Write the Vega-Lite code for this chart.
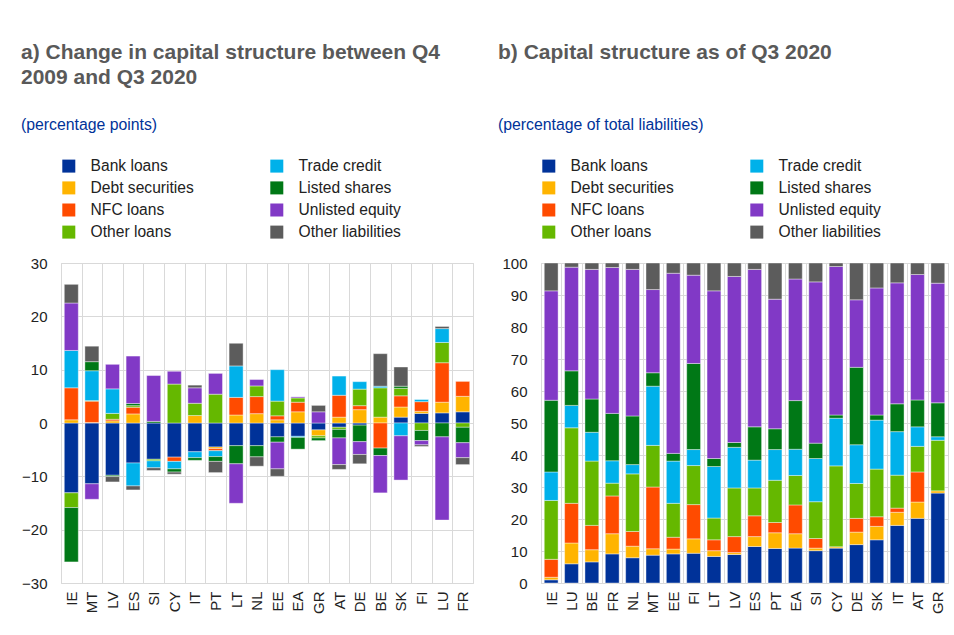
{
  "$schema": "https://vega.github.io/schema/vega-lite/v6.json",
  "padding": {"left": 20, "top": 41, "right": 5, "bottom": 5},
  "background": "white",
  "bounds": "flush",
  "spacing": 68,
  "datasets": {
    "series": [
      {"s": "Bank loans", "k": 1}, {"s": "Debt securities", "k": 2}, {"s": "NFC loans", "k": 3}, {"s": "Other loans", "k": 4},
      {"s": "Trade credit", "k": 5}, {"s": "Listed shares", "k": 6}, {"s": "Unlisted equity", "k": 7}, {"s": "Other liabilities", "k": 8}
    ],
    "a": [
      {"c": "IE", "s": "Bank loans", "v": -13.1}, {"c": "IE", "s": "Debt securities", "v": 0.6}, {"c": "IE", "s": "NFC loans", "v": 6.0}, {"c": "IE", "s": "Other loans", "v": -2.75}, {"c": "IE", "s": "Trade credit", "v": 7.0}, {"c": "IE", "s": "Listed shares", "v": -10.2}, {"c": "IE", "s": "Unlisted equity", "v": 8.9}, {"c": "IE", "s": "Other liabilities", "v": 3.5},
      {"c": "MT", "s": "Bank loans", "v": -11.4}, {"c": "MT", "s": "Debt securities", "v": 0.1}, {"c": "MT", "s": "NFC loans", "v": 4.0}, {"c": "MT", "s": "Other loans", "v": 0.1}, {"c": "MT", "s": "Trade credit", "v": 5.6}, {"c": "MT", "s": "Listed shares", "v": 1.7}, {"c": "MT", "s": "Unlisted equity", "v": -2.9}, {"c": "MT", "s": "Other liabilities", "v": 2.9},
      {"c": "LV", "s": "Bank loans", "v": -9.8}, {"c": "LV", "s": "Debt securities", "v": 0.4}, {"c": "LV", "s": "NFC loans", "v": 0.3}, {"c": "LV", "s": "Other loans", "v": 1.1}, {"c": "LV", "s": "Trade credit", "v": 4.6}, {"c": "LV", "s": "Listed shares", "v": -0.25}, {"c": "LV", "s": "Unlisted equity", "v": 4.6}, {"c": "LV", "s": "Other liabilities", "v": -1.0},
      {"c": "ES", "s": "Bank loans", "v": -7.5}, {"c": "ES", "s": "Debt securities", "v": 1.7}, {"c": "ES", "s": "NFC loans", "v": 1.25}, {"c": "ES", "s": "Other loans", "v": 0.3}, {"c": "ES", "s": "Trade credit", "v": -4.3}, {"c": "ES", "s": "Listed shares", "v": 0.4}, {"c": "ES", "s": "Unlisted equity", "v": 8.9}, {"c": "ES", "s": "Other liabilities", "v": -0.75},
      {"c": "SI", "s": "Bank loans", "v": -6.8}, {"c": "SI", "s": "Other loans", "v": -0.3}, {"c": "SI", "s": "Trade credit", "v": -1.3}, {"c": "SI", "s": "Listed shares", "v": 0.3}, {"c": "SI", "s": "Unlisted equity", "v": 8.6}, {"c": "SI", "s": "Other liabilities", "v": -0.5},
      {"c": "CY", "s": "Bank loans", "v": -6.4}, {"c": "CY", "s": "NFC loans", "v": -0.8}, {"c": "CY", "s": "Other loans", "v": 7.3}, {"c": "CY", "s": "Trade credit", "v": -1.4}, {"c": "CY", "s": "Listed shares", "v": -0.6}, {"c": "CY", "s": "Unlisted equity", "v": 2.4}, {"c": "CY", "s": "Other liabilities", "v": -0.4},
      {"c": "IT", "s": "Bank loans", "v": -5.4}, {"c": "IT", "s": "Debt securities", "v": 1.4}, {"c": "IT", "s": "Other loans", "v": 2.3}, {"c": "IT", "s": "Trade credit", "v": -1.1}, {"c": "IT", "s": "Listed shares", "v": -0.5}, {"c": "IT", "s": "Unlisted equity", "v": 2.9}, {"c": "IT", "s": "Other liabilities", "v": 0.5},
      {"c": "PT", "s": "Bank loans", "v": -4.5}, {"c": "PT", "s": "Debt securities", "v": -0.3}, {"c": "PT", "s": "NFC loans", "v": -0.4}, {"c": "PT", "s": "Other loans", "v": 5.4}, {"c": "PT", "s": "Trade credit", "v": -1.1}, {"c": "PT", "s": "Listed shares", "v": -0.9}, {"c": "PT", "s": "Unlisted equity", "v": 3.9}, {"c": "PT", "s": "Other liabilities", "v": -2.1},
      {"c": "LT", "s": "Bank loans", "v": -4.25}, {"c": "LT", "s": "Debt securities", "v": 1.5}, {"c": "LT", "s": "NFC loans", "v": 3.3}, {"c": "LT", "s": "Trade credit", "v": 5.9}, {"c": "LT", "s": "Listed shares", "v": -3.4}, {"c": "LT", "s": "Unlisted equity", "v": -7.4}, {"c": "LT", "s": "Other liabilities", "v": 4.25},
      {"c": "NL", "s": "Bank loans", "v": -4.25}, {"c": "NL", "s": "Debt securities", "v": 1.75}, {"c": "NL", "s": "NFC loans", "v": 3.2}, {"c": "NL", "s": "Other loans", "v": 2.0}, {"c": "NL", "s": "Listed shares", "v": -2.1}, {"c": "NL", "s": "Unlisted equity", "v": 1.2}, {"c": "NL", "s": "Other liabilities", "v": -1.75},
      {"c": "EE", "s": "Bank loans", "v": -2.6}, {"c": "EE", "s": "Debt securities", "v": 0.6}, {"c": "EE", "s": "NFC loans", "v": 0.75}, {"c": "EE", "s": "Other loans", "v": 2.75}, {"c": "EE", "s": "Trade credit", "v": 5.9}, {"c": "EE", "s": "Listed shares", "v": -1.0}, {"c": "EE", "s": "Unlisted equity", "v": -5.0}, {"c": "EE", "s": "Other liabilities", "v": -1.4},
      {"c": "EA", "s": "Bank loans", "v": -2.5}, {"c": "EA", "s": "Debt securities", "v": 2.1}, {"c": "EA", "s": "NFC loans", "v": 1.8}, {"c": "EA", "s": "Other loans", "v": 0.8}, {"c": "EA", "s": "Trade credit", "v": -0.2}, {"c": "EA", "s": "Listed shares", "v": -2.2}, {"c": "EA", "s": "Unlisted equity", "v": 0.2},
      {"c": "GR", "s": "Bank loans", "v": -1.3}, {"c": "GR", "s": "Debt securities", "v": -1.1}, {"c": "GR", "s": "Other loans", "v": -0.4}, {"c": "GR", "s": "Listed shares", "v": -0.5}, {"c": "GR", "s": "Unlisted equity", "v": 2.1}, {"c": "GR", "s": "Other liabilities", "v": 1.2},
      {"c": "AT", "s": "Bank loans", "v": -0.8}, {"c": "AT", "s": "Debt securities", "v": 1.1}, {"c": "AT", "s": "NFC loans", "v": 4.1}, {"c": "AT", "s": "Other loans", "v": -0.4}, {"c": "AT", "s": "Trade credit", "v": 3.6}, {"c": "AT", "s": "Listed shares", "v": -1.6}, {"c": "AT", "s": "Unlisted equity", "v": -5.0}, {"c": "AT", "s": "Other liabilities", "v": -0.9},
      {"c": "DE", "s": "Bank loans", "v": -0.4}, {"c": "DE", "s": "Debt securities", "v": 2.5}, {"c": "DE", "s": "NFC loans", "v": 0.75}, {"c": "DE", "s": "Other loans", "v": 3.1}, {"c": "DE", "s": "Trade credit", "v": 1.4}, {"c": "DE", "s": "Listed shares", "v": -3.1}, {"c": "DE", "s": "Unlisted equity", "v": -2.4}, {"c": "DE", "s": "Other liabilities", "v": -1.75},
      {"c": "BE", "s": "Debt securities", "v": 1.1}, {"c": "BE", "s": "NFC loans", "v": -4.7}, {"c": "BE", "s": "Other loans", "v": 5.5}, {"c": "BE", "s": "Trade credit", "v": 0.3}, {"c": "BE", "s": "Listed shares", "v": -1.4}, {"c": "BE", "s": "Unlisted equity", "v": -7.0}, {"c": "BE", "s": "Other liabilities", "v": 6.1},
      {"c": "SK", "s": "Bank loans", "v": 1.1}, {"c": "SK", "s": "Debt securities", "v": 1.9}, {"c": "SK", "s": "NFC loans", "v": 2.1}, {"c": "SK", "s": "Other loans", "v": 1.4}, {"c": "SK", "s": "Trade credit", "v": -2.4}, {"c": "SK", "s": "Listed shares", "v": 0.4}, {"c": "SK", "s": "Unlisted equity", "v": -8.3}, {"c": "SK", "s": "Other liabilities", "v": 3.6},
      {"c": "FI", "s": "Bank loans", "v": 1.8}, {"c": "FI", "s": "Debt securities", "v": 0.4}, {"c": "FI", "s": "NFC loans", "v": 1.8}, {"c": "FI", "s": "Other loans", "v": -1.4}, {"c": "FI", "s": "Trade credit", "v": 0.4}, {"c": "FI", "s": "Listed shares", "v": -1.9}, {"c": "FI", "s": "Unlisted equity", "v": -0.8}, {"c": "FI", "s": "Other liabilities", "v": -0.3},
      {"c": "LU", "s": "Bank loans", "v": 1.9}, {"c": "LU", "s": "Debt securities", "v": 2.0}, {"c": "LU", "s": "NFC loans", "v": 7.4}, {"c": "LU", "s": "Other loans", "v": 3.8}, {"c": "LU", "s": "Trade credit", "v": 2.6}, {"c": "LU", "s": "Listed shares", "v": -2.6}, {"c": "LU", "s": "Unlisted equity", "v": -15.6}, {"c": "LU", "s": "Other liabilities", "v": 0.4},
      {"c": "FR", "s": "Bank loans", "v": 2.1}, {"c": "FR", "s": "Debt securities", "v": 2.9}, {"c": "FR", "s": "NFC loans", "v": 2.8}, {"c": "FR", "s": "Other loans", "v": -0.8}, {"c": "FR", "s": "Listed shares", "v": -2.9}, {"c": "FR", "s": "Unlisted equity", "v": -2.8}, {"c": "FR", "s": "Other liabilities", "v": -1.3}
    ],
    "b": [
      {"c": "IE", "s": "Bank loans", "v": 1.0}, {"c": "IE", "s": "Debt securities", "v": 0.8}, {"c": "IE", "s": "NFC loans", "v": 5.6}, {"c": "IE", "s": "Other loans", "v": 18.4}, {"c": "IE", "s": "Trade credit", "v": 8.9}, {"c": "IE", "s": "Listed shares", "v": 22.4}, {"c": "IE", "s": "Unlisted equity", "v": 34.2}, {"c": "IE", "s": "Other liabilities", "v": 8.7},
      {"c": "LU", "s": "Bank loans", "v": 6.0}, {"c": "LU", "s": "Debt securities", "v": 6.5}, {"c": "LU", "s": "NFC loans", "v": 12.4}, {"c": "LU", "s": "Other loans", "v": 23.6}, {"c": "LU", "s": "Trade credit", "v": 7.0}, {"c": "LU", "s": "Listed shares", "v": 10.8}, {"c": "LU", "s": "Unlisted equity", "v": 32.4}, {"c": "LU", "s": "Other liabilities", "v": 1.3},
      {"c": "BE", "s": "Bank loans", "v": 6.6}, {"c": "BE", "s": "Debt securities", "v": 3.8}, {"c": "BE", "s": "NFC loans", "v": 7.6}, {"c": "BE", "s": "Other loans", "v": 20.1}, {"c": "BE", "s": "Trade credit", "v": 9.0}, {"c": "BE", "s": "Listed shares", "v": 10.4}, {"c": "BE", "s": "Unlisted equity", "v": 40.5}, {"c": "BE", "s": "Other liabilities", "v": 2.0},
      {"c": "FR", "s": "Bank loans", "v": 9.1}, {"c": "FR", "s": "Debt securities", "v": 6.3}, {"c": "FR", "s": "NFC loans", "v": 11.8}, {"c": "FR", "s": "Other loans", "v": 4.0}, {"c": "FR", "s": "Trade credit", "v": 7.0}, {"c": "FR", "s": "Listed shares", "v": 14.8}, {"c": "FR", "s": "Unlisted equity", "v": 45.6}, {"c": "FR", "s": "Other liabilities", "v": 1.4},
      {"c": "NL", "s": "Bank loans", "v": 7.9}, {"c": "NL", "s": "Debt securities", "v": 3.6}, {"c": "NL", "s": "NFC loans", "v": 4.6}, {"c": "NL", "s": "Other loans", "v": 18.0}, {"c": "NL", "s": "Trade credit", "v": 2.9}, {"c": "NL", "s": "Listed shares", "v": 15.2}, {"c": "NL", "s": "Unlisted equity", "v": 45.8}, {"c": "NL", "s": "Other liabilities", "v": 2.0},
      {"c": "MT", "s": "Bank loans", "v": 8.7}, {"c": "MT", "s": "Debt securities", "v": 2.0}, {"c": "MT", "s": "NFC loans", "v": 19.3}, {"c": "MT", "s": "Other loans", "v": 13.0}, {"c": "MT", "s": "Trade credit", "v": 18.5}, {"c": "MT", "s": "Listed shares", "v": 4.2}, {"c": "MT", "s": "Unlisted equity", "v": 26.0}, {"c": "MT", "s": "Other liabilities", "v": 8.3},
      {"c": "EE", "s": "Bank loans", "v": 9.1}, {"c": "EE", "s": "Debt securities", "v": 1.5}, {"c": "EE", "s": "NFC loans", "v": 3.7}, {"c": "EE", "s": "Other loans", "v": 10.6}, {"c": "EE", "s": "Trade credit", "v": 13.2}, {"c": "EE", "s": "Listed shares", "v": 2.4}, {"c": "EE", "s": "Unlisted equity", "v": 56.3}, {"c": "EE", "s": "Other liabilities", "v": 3.2},
      {"c": "FI", "s": "Bank loans", "v": 9.3}, {"c": "FI", "s": "Debt securities", "v": 4.5}, {"c": "FI", "s": "NFC loans", "v": 10.7}, {"c": "FI", "s": "Other loans", "v": 12.2}, {"c": "FI", "s": "Trade credit", "v": 5.0}, {"c": "FI", "s": "Listed shares", "v": 26.9}, {"c": "FI", "s": "Unlisted equity", "v": 27.6}, {"c": "FI", "s": "Other liabilities", "v": 3.8},
      {"c": "LT", "s": "Bank loans", "v": 8.3}, {"c": "LT", "s": "Debt securities", "v": 1.8}, {"c": "LT", "s": "NFC loans", "v": 3.4}, {"c": "LT", "s": "Other loans", "v": 6.8}, {"c": "LT", "s": "Trade credit", "v": 16.1}, {"c": "LT", "s": "Listed shares", "v": 2.5}, {"c": "LT", "s": "Unlisted equity", "v": 52.4}, {"c": "LT", "s": "Other liabilities", "v": 8.7},
      {"c": "LV", "s": "Bank loans", "v": 8.9}, {"c": "LV", "s": "Debt securities", "v": 0.6}, {"c": "LV", "s": "NFC loans", "v": 5.0}, {"c": "LV", "s": "Other loans", "v": 15.2}, {"c": "LV", "s": "Trade credit", "v": 12.7}, {"c": "LV", "s": "Listed shares", "v": 1.5}, {"c": "LV", "s": "Unlisted equity", "v": 51.9}, {"c": "LV", "s": "Other liabilities", "v": 4.2},
      {"c": "ES", "s": "Bank loans", "v": 11.4}, {"c": "ES", "s": "Debt securities", "v": 3.1}, {"c": "ES", "s": "NFC loans", "v": 6.5}, {"c": "ES", "s": "Other loans", "v": 8.7}, {"c": "ES", "s": "Trade credit", "v": 8.7}, {"c": "ES", "s": "Listed shares", "v": 10.4}, {"c": "ES", "s": "Unlisted equity", "v": 49.2}, {"c": "ES", "s": "Other liabilities", "v": 2.0},
      {"c": "PT", "s": "Bank loans", "v": 10.8}, {"c": "PT", "s": "Debt securities", "v": 4.9}, {"c": "PT", "s": "NFC loans", "v": 3.2}, {"c": "PT", "s": "Other loans", "v": 13.2}, {"c": "PT", "s": "Trade credit", "v": 9.6}, {"c": "PT", "s": "Listed shares", "v": 6.5}, {"c": "PT", "s": "Unlisted equity", "v": 40.5}, {"c": "PT", "s": "Other liabilities", "v": 11.3},
      {"c": "EA", "s": "Bank loans", "v": 10.9}, {"c": "EA", "s": "Debt securities", "v": 4.5}, {"c": "EA", "s": "NFC loans", "v": 9.0}, {"c": "EA", "s": "Other loans", "v": 9.2}, {"c": "EA", "s": "Trade credit", "v": 8.2}, {"c": "EA", "s": "Listed shares", "v": 15.2}, {"c": "EA", "s": "Unlisted equity", "v": 38.0}, {"c": "EA", "s": "Other liabilities", "v": 5.0},
      {"c": "SI", "s": "Bank loans", "v": 10.1}, {"c": "SI", "s": "Debt securities", "v": 0.8}, {"c": "SI", "s": "NFC loans", "v": 3.0}, {"c": "SI", "s": "Other loans", "v": 11.5}, {"c": "SI", "s": "Trade credit", "v": 13.5}, {"c": "SI", "s": "Listed shares", "v": 4.8}, {"c": "SI", "s": "Unlisted equity", "v": 50.4}, {"c": "SI", "s": "Other liabilities", "v": 5.9},
      {"c": "CY", "s": "Bank loans", "v": 10.9}, {"c": "CY", "s": "Debt securities", "v": 0.4}, {"c": "CY", "s": "Other loans", "v": 25.3}, {"c": "CY", "s": "Trade credit", "v": 14.9}, {"c": "CY", "s": "Listed shares", "v": 1.0}, {"c": "CY", "s": "Unlisted equity", "v": 46.4}, {"c": "CY", "s": "Other liabilities", "v": 1.1},
      {"c": "DE", "s": "Bank loans", "v": 12.0}, {"c": "DE", "s": "Debt securities", "v": 3.9}, {"c": "DE", "s": "NFC loans", "v": 4.3}, {"c": "DE", "s": "Other loans", "v": 10.9}, {"c": "DE", "s": "Trade credit", "v": 12.1}, {"c": "DE", "s": "Listed shares", "v": 24.2}, {"c": "DE", "s": "Unlisted equity", "v": 21.1}, {"c": "DE", "s": "Other liabilities", "v": 11.5},
      {"c": "SK", "s": "Bank loans", "v": 13.5}, {"c": "SK", "s": "Debt securities", "v": 4.2}, {"c": "SK", "s": "NFC loans", "v": 3.0}, {"c": "SK", "s": "Other loans", "v": 14.9}, {"c": "SK", "s": "Trade credit", "v": 15.3}, {"c": "SK", "s": "Listed shares", "v": 1.6}, {"c": "SK", "s": "Unlisted equity", "v": 39.7}, {"c": "SK", "s": "Other liabilities", "v": 7.8},
      {"c": "IT", "s": "Bank loans", "v": 18.0}, {"c": "IT", "s": "Debt securities", "v": 4.1}, {"c": "IT", "s": "NFC loans", "v": 1.3}, {"c": "IT", "s": "Other loans", "v": 10.3}, {"c": "IT", "s": "Trade credit", "v": 13.6}, {"c": "IT", "s": "Listed shares", "v": 8.7}, {"c": "IT", "s": "Unlisted equity", "v": 37.8}, {"c": "IT", "s": "Other liabilities", "v": 6.2},
      {"c": "AT", "s": "Bank loans", "v": 20.2}, {"c": "AT", "s": "Debt securities", "v": 5.1}, {"c": "AT", "s": "NFC loans", "v": 9.4}, {"c": "AT", "s": "Other loans", "v": 8.0}, {"c": "AT", "s": "Trade credit", "v": 6.1}, {"c": "AT", "s": "Listed shares", "v": 8.4}, {"c": "AT", "s": "Unlisted equity", "v": 39.2}, {"c": "AT", "s": "Other liabilities", "v": 3.6},
      {"c": "GR", "s": "Bank loans", "v": 28.1}, {"c": "GR", "s": "Debt securities", "v": 0.7}, {"c": "GR", "s": "Other loans", "v": 15.8}, {"c": "GR", "s": "Trade credit", "v": 1.1}, {"c": "GR", "s": "Listed shares", "v": 10.6}, {"c": "GR", "s": "Unlisted equity", "v": 37.4}, {"c": "GR", "s": "Other liabilities", "v": 6.3}
    ]
  },
  "hconcat": [
    {
      "width": 412,
      "height": 320,
      "data": {"name": "a"},
      "transform": [{"lookup": "s", "from": {"data": {"name": "series"}, "key": "s", "fields": ["k"]}}],
      "title": {"text": ["a) Change in capital structure between Q4", "2009 and Q3 2020"], "subtitle": "(percentage points)", "subtitlePadding": 30, "dx": -40},
      "mark": {"type": "bar", "width": {"band": 0.68}, "stroke": "white", "strokeWidth": 0.4},
      "encoding": {
        "x": {"field": "c", "type": "nominal", "title": null,
              "sort": ["IE", "MT", "LV", "ES", "SI", "CY", "IT", "PT", "LT", "NL", "EE", "EA", "GR", "AT", "DE", "BE", "SK", "FI", "LU", "FR"],
              "scale": {"paddingInner": 0, "paddingOuter": 0}},
        "y": {"field": "v", "type": "quantitative", "title": null, "stack": "zero",
              "scale": {"domain": [-30, 30], "nice": false},
              "axis": {"values": [-30, -20, -10, 0, 10, 20, 30]}},
        "color": {"field": "s", "type": "nominal",
                  "scale": {"domain": ["Bank loans", "Debt securities", "NFC loans", "Other loans", "Trade credit", "Listed shares", "Unlisted equity", "Other liabilities"],
                            "range": ["#003299", "#FFB400", "#FF4B00", "#65B800", "#00B1EA", "#007816", "#8139C6", "#5C5C5C"]},
                  "legend": {"orient": "none", "legendX": 0, "legendY": -105}},
        "order": {"field": "k", "type": "quantitative"}
      }
    },
    {
      "width": 407,
      "height": 320,
      "data": {"name": "b"},
      "transform": [{"lookup": "s", "from": {"data": {"name": "series"}, "key": "s", "fields": ["k"]}}],
      "title": {"text": "b) Capital structure as of Q3 2020", "subtitle": "(percentage of total liabilities)", "subtitlePadding": 55.4, "dx": -43},
      "mark": {"type": "bar", "width": {"band": 0.68}, "stroke": "white", "strokeWidth": 0.4},
      "encoding": {
        "x": {"field": "c", "type": "nominal", "title": null,
              "sort": ["IE", "LU", "BE", "FR", "NL", "MT", "EE", "FI", "LT", "LV", "ES", "PT", "EA", "SI", "CY", "DE", "SK", "IT", "AT", "GR"],
              "scale": {"paddingInner": 0, "paddingOuter": 0}},
        "y": {"field": "v", "type": "quantitative", "title": null, "stack": "zero",
              "scale": {"domain": [0, 100], "nice": false},
              "axis": {"values": [0, 10, 20, 30, 40, 50, 60, 70, 80, 90, 100]}},
        "color": {"field": "s", "type": "nominal",
                  "scale": {"domain": ["Bank loans", "Debt securities", "NFC loans", "Other loans", "Trade credit", "Listed shares", "Unlisted equity", "Other liabilities"],
                            "range": ["#003299", "#FFB400", "#FF4B00", "#65B800", "#00B1EA", "#007816", "#8139C6", "#5C5C5C"]},
                  "legend": {"orient": "none", "legendX": 0, "legendY": -105}},
        "order": {"field": "k", "type": "quantitative"}
      }
    }
  ],
  "resolve": {"scale": {"color": "independent"}, "legend": {"color": "independent"}},
  "config": {
    "font": "Liberation Sans",
    "view": {"stroke": "#d9d9d9", "strokeWidth": 1},
    "title": {"anchor": "start", "frame": "group", "font": "Liberation Sans", "fontSize": 21, "fontWeight": "bold", "color": "#595959", "lineHeight": 25.4, "subtitleFont": "Liberation Sans", "subtitleFontSize": 15.8, "subtitleColor": "#003299", "offset": 25},
    "axis": {"labelFont": "Liberation Sans", "labelFontSize": 15, "labelColor": "#222", "gridColor": "#d9d9d9", "gridWidth": 1, "domain": false, "ticks": false, "tickSize": 0},
    "axisX": {"labelAngle": -90, "labelPadding": 8, "grid": true, "tickBand": "extent"},
    "axisY": {"labelPadding": 14},
    "legend": {"title": null, "columns": 2, "columnPadding": 75, "rowPadding": 5.1, "symbolType": "square", "symbolSize": 169, "symbolStrokeWidth": 0, "symbolOpacity": 1, "labelFont": "Liberation Sans", "labelFontSize": 15.6, "labelColor": "#222", "labelOffset": 14, "padding": 0, "labelLimit": 300}
  }
}
